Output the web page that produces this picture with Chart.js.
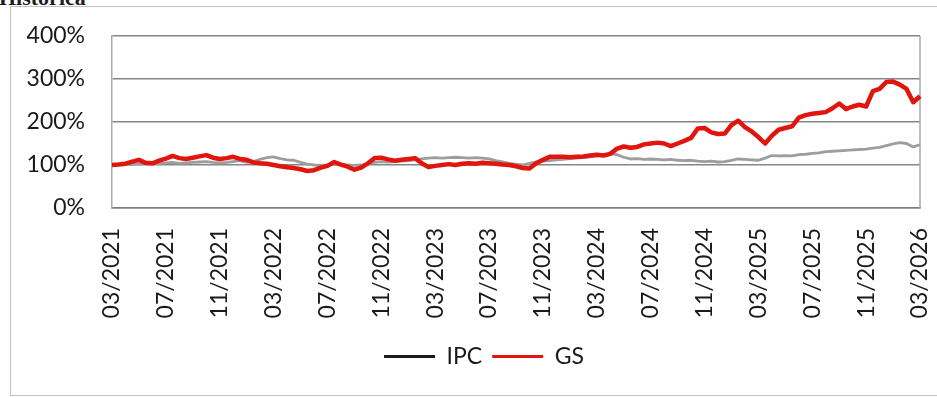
<!DOCTYPE html>
<html>
<head>
<meta charset="utf-8">
<script src="https://cdn.jsdelivr.net/npm/chart.js@4.4.1/dist/chart.umd.min.js"></script>
<style>
  html, body { margin: 0; padding: 0; background: #fff; }
  #wrap { position: relative; width: 937px; height: 398px; overflow: hidden; background: #fff; }
  #titulo { position: absolute; left: -1px; top: -13px; font: bold 22px "Liberation Serif", serif; line-height: 22px; color: #1e1e1e; }
  #marco { position: absolute; left: 10px; top: 6px; width: 940px; height: 390px; border: 1.5px solid #c2c2c2; box-sizing: border-box; }
  #myChart { position: absolute; left: 0; top: 0; }
</style>
</head>
<body>
<div id="wrap">
  <div id="titulo">Histórica</div>
  <div id="marco"></div>
  <canvas id="myChart" width="937" height="398"></canvas>
</div>
<script>
// one point every half month, 03/2021 -> 03/2026
var tickLabels = ["03/2021", "07/2021", "11/2021", "03/2022", "07/2022", "11/2022", "03/2023",
  "07/2023", "11/2023", "03/2024", "07/2024", "11/2024", "03/2025", "07/2025", "11/2025", "03/2026"];

var seriesNames = ["IPC", "GS"];
var lineColors = ["#9d9d9d", "#e2140e"];
var legendColors = ["#1a1a1a", "#e2140e"];

var ipc = [
  100, 101, 102, 101, 103, 102, 104, 103, 105, 106, 104, 105, 106, 107, 108, 106,
  105, 106, 108, 110, 106, 108, 113, 117, 119, 115, 112, 111, 106, 102, 100, 99,
  100, 102, 101, 100, 99, 100, 103, 106, 108, 107, 108, 109, 110, 112, 114, 116,
  117, 116, 117, 118, 117, 116, 117, 116, 114, 110, 107, 104, 102, 100, 104, 107,
  109, 110, 112, 113, 115, 116, 117, 119, 121, 123, 126, 124, 118, 114, 115, 113,
  114, 113, 112, 113, 111, 110, 111, 109, 108, 109, 107, 108, 111, 114, 113, 112,
  111, 116, 122, 121, 122, 121, 124, 125, 127, 128, 131, 132, 133, 134, 135, 136,
  137, 139, 141, 145, 149, 152, 150, 142, 147
];

var gs = [
  100, 101, 103, 108, 112, 105, 104, 110, 115, 121, 116, 114, 117, 120, 123, 117,
  114, 116, 119, 114, 112, 106, 104, 103, 100, 97, 95, 93, 90, 86, 88, 94,
  98, 107, 101, 96, 89, 94, 104, 116, 117, 113, 110, 112, 114, 116, 104, 95,
  98, 100, 102, 100, 103, 104, 103, 105, 104, 103, 101, 100, 97, 93, 92, 104,
  112, 119, 119, 119, 118, 119, 120, 122, 124, 122, 126, 138, 143, 140, 142, 148,
  150, 152, 150, 144, 150, 156, 163, 185, 186, 176, 172, 173, 193, 203, 188, 178,
  165, 150, 168, 182, 186, 190, 210, 216, 219, 221, 223, 232, 243, 230, 236, 240,
  236, 272, 277, 293, 294, 287, 277, 246, 260
];

var categories = [];
for (var i = 0; i < gs.length; i++) {
  var m = 2 + Math.floor(i / 2);
  var mm = (m % 12) + 1;
  var yy = 2021 + Math.floor(m / 12);
  categories.push((mm < 10 ? "0" : "") + mm + "/" + yy);
}

var fontFamily = "Lato, 'Open Sans', sans-serif";

// closes the plot box on the right side and nudges the legend a bit to the right
var plotFrame = {
  id: "plotFrame",
  afterLayout: function (chart) {
    chart.legend.left += 24;
    chart.legend.right += 24;
  },
  beforeDatasetsDraw: function (chart) {
    var a = chart.chartArea;
    var ctx = chart.ctx;
    ctx.save();
    ctx.strokeStyle = "#a9a9a9";
    ctx.lineWidth = 1.5;
    ctx.beginPath();
    ctx.moveTo(a.right, a.top);
    ctx.lineTo(a.right, a.bottom);
    ctx.stroke();
    ctx.restore();
  }
};

var ctx = document.getElementById("myChart").getContext("2d");
var chart = new Chart(ctx, {
  type: "line",
  data: {
    labels: categories,
    datasets: [
      {
        label: seriesNames[0],
        data: ipc,
        borderColor: lineColors[0],
        backgroundColor: lineColors[0],
        borderWidth: 2.8,
        order: 1
      },
      {
        label: seriesNames[1],
        data: gs,
        borderColor: lineColors[1],
        backgroundColor: lineColors[1],
        borderWidth: 4.5,
        order: 0
      }
    ]
  },
  options: {
    responsive: false,
    animation: false,
    devicePixelRatio: 1,
    elements: {
      point: { radius: 0 },
      line: { tension: 0, borderJoinStyle: "round" }
    },
    layout: {
      padding: { left: 0, right: 17, top: 36, bottom: 20 }
    },
    plugins: {
      tooltip: { enabled: false },
      legend: {
        position: "bottom",
        labels: {
          font: { family: fontFamily, size: 23 },
          color: "#1a1a1a",
          boxWidth: 51,
          boxHeight: 3,
          padding: 10,
          generateLabels: function (chart) {
            return chart.data.datasets.map(function (ds, i) {
              return {
                text: ds.label,
                fillStyle: legendColors[i],
                strokeStyle: legendColors[i],
                lineWidth: 0,
                fontColor: "#1a1a1a",
                datasetIndex: i,
                hidden: false
              };
            });
          }
        }
      }
    },
    scales: {
      x: {
        type: "category",
        grid: { display: false },
        border: { display: true, color: "#7c7c7c", width: 1.5 },
        ticks: {
          autoSkip: false,
          minRotation: 90,
          maxRotation: 90,
          padding: 12,
          color: "#1a1a1a",
          font: { family: fontFamily, size: 23 },
          callback: function (value, index) {
            return index % 8 === 0 ? tickLabels[index / 8] : "";
          }
        },
        afterFit: function (scale) {
          scale.height = 127;
          scale.paddingLeft = 0;
          scale.paddingRight = 0;
        }
      },
      y: {
        min: 0,
        max: 400,
        grid: { color: "#868686", lineWidth: 1.5, drawTicks: false },
        border: { display: true, color: "#a9a9a9", width: 1.5 },
        ticks: {
          stepSize: 100,
          padding: 27,
          color: "#1a1a1a",
          font: { family: fontFamily, size: 23 },
          callback: function (v) {
            return v + "%";
          }
        },
        afterFit: function (scale) {
          scale.width = 112;
          scale.paddingTop = 0;
          scale.paddingBottom = 0;
        }
      }
    }
  },
  plugins: [plotFrame]
});
</script>
</body>
</html>
